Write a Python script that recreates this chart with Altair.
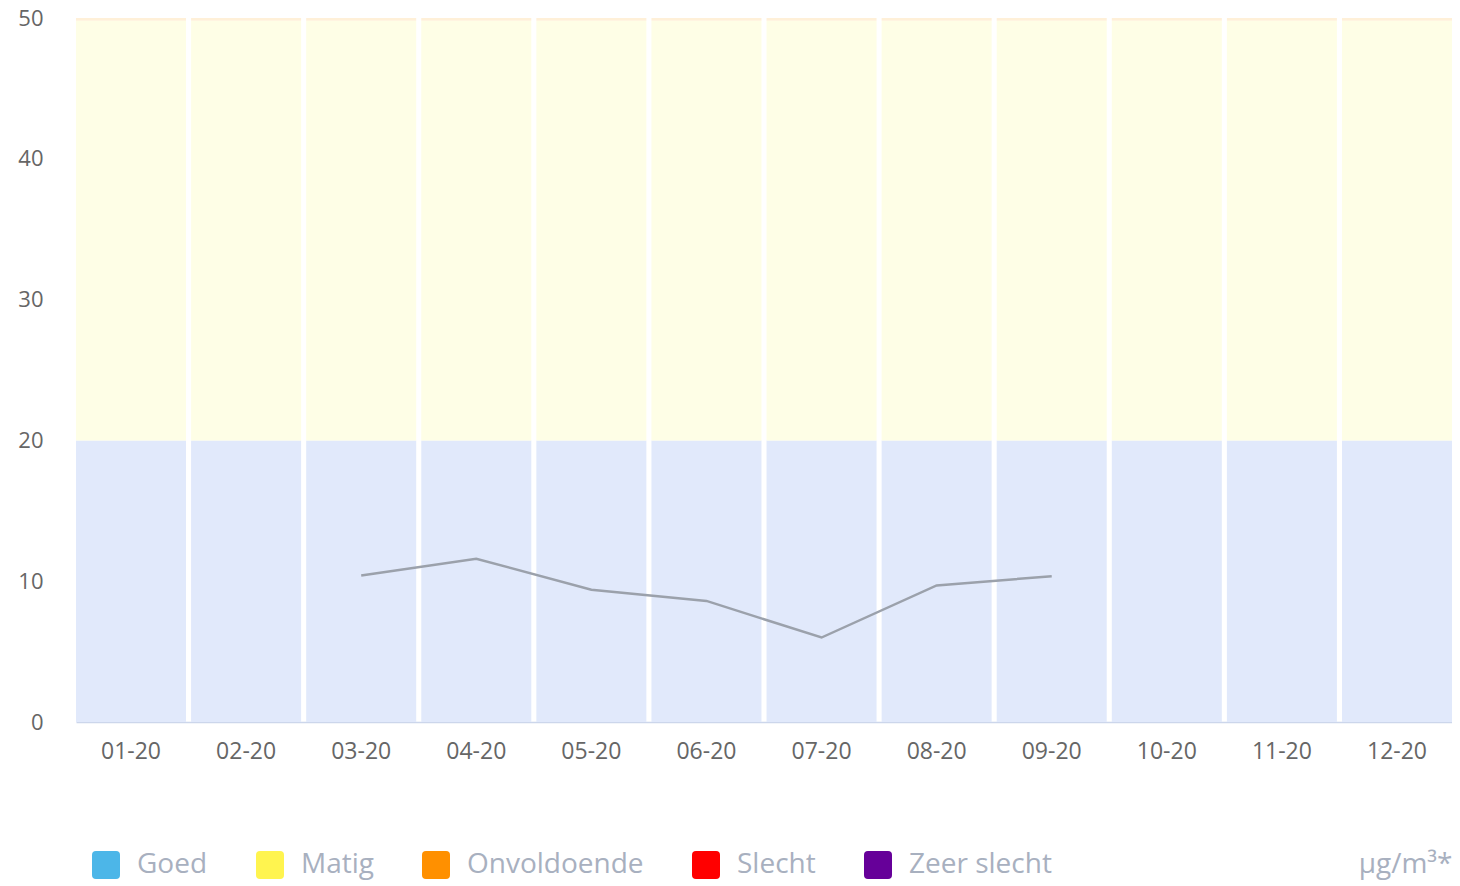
import altair as alt
import pandas as pd

# ---- data ----
months = ["01-20", "02-20", "03-20", "04-20", "05-20", "06-20",
          "07-20", "08-20", "09-20", "10-20", "11-20", "12-20"]

band_names = ["Goed", "Matig", "Onvoldoende"]
band_low = [0, 20, 49.8]
band_high = [20, 49.8, 50]
band_fill = ["#e1e9fb", "#fefee6", "#fff0d8"]

line_months = ["03-20", "04-20", "05-20", "06-20", "07-20", "08-20", "09-20"]
line_values = [10.4, 11.6, 9.4, 8.6, 6.0, 9.7, 10.35]

legend_names = ["Goed", "Matig", "Onvoldoende", "Slecht", "Zeer slecht"]
legend_colors = ["#4cb6e8", "#fff44f", "#ff9000", "#ff0000", "#660099"]

y_ticks = [0, 10, 20, 30, 40, 50]
unit_label = "µg/m³*"

# ---- tables ----
bands = pd.DataFrame([
    {"month": m, "band": n, "low": lo, "high": hi, "fill": f}
    for m in months
    for n, lo, hi, f in zip(band_names, band_low, band_high, band_fill)
])
line_df = pd.DataFrame({"month": line_months, "value": line_values})
legend_df = pd.DataFrame({"cat": legend_names})

x_scale = alt.Scale(domain=months, paddingInner=0.044, paddingOuter=0)
y_scale = alt.Scale(domain=[0, 50], nice=False, zero=True)

x_axis = alt.Axis(
    labelAngle=0, labelFontSize=23, labelColor="#666666", labelFont="Open Sans",
    labelPadding=18, ticks=False, grid=False, domainColor="#ccd6eb", domainWidth=1.5,
    title=unit_label, titleAnchor="end", titleAlign="right", titleFontSize=28,
    titleFont="Open Sans", titleFontWeight="normal", titleColor="#a8b0bf",
    titlePadding=87,
)
y_axis = alt.Axis(
    values=y_ticks, labelFontSize=22, labelColor="#666666", labelFont="Open Sans",
    labelPadding=33, ticks=False, grid=False, domain=False, title=None,
)

band_layer = alt.Chart(bands).mark_bar().encode(
    x=alt.X("month:N", scale=x_scale, axis=x_axis, sort=months),
    y=alt.Y("low:Q", scale=y_scale, axis=y_axis),
    y2="high:Q",
    fill=alt.Fill("fill:N", scale=None, legend=None),
)

line_layer = alt.Chart(line_df).mark_line(color="#9ba1ab", strokeWidth=2.5).encode(
    x=alt.X("month:N", scale=x_scale, sort=months),
    y=alt.Y("value:Q", scale=y_scale),
)

rounded_square = ("M -0.72,-1 L 0.72,-1 Q 1,-1 1,-0.72 L 1,0.72 Q 1,1 0.72,1 "
                  "L -0.72,1 Q -1,1 -1,0.72 L -1,-0.72 Q -1,-1 -0.72,-1 Z")

legend_layer = alt.Chart(legend_df).mark_square(opacity=0, size=0).encode(
    color=alt.Color(
        "cat:N",
        scale=alt.Scale(domain=legend_names, range=legend_colors),
        legend=alt.Legend(
            orient="none", direction="horizontal", columns=5,
            legendX=16, legendY=833, title=None,
            symbolType=rounded_square, symbolSize=784, symbolOpacity=1,
            symbolStrokeWidth=0, labelFontSize=28, labelFont="Open Sans",
            labelColor="#a8b0bf", labelOffset=17, columnPadding=48, padding=0,
            labelLimit=400,
        ),
    ),
)

chart = alt.layer(band_layer, line_layer, legend_layer).properties(
    width=1376, height=704,
    autosize=alt.AutoSizeParams(type="none"),
    padding={"left": 68, "top": 10, "right": 0, "bottom": 164},
).configure_view(stroke=None)

chart.save("out.html", embed_options={"renderer": "svg", "actions": False})
